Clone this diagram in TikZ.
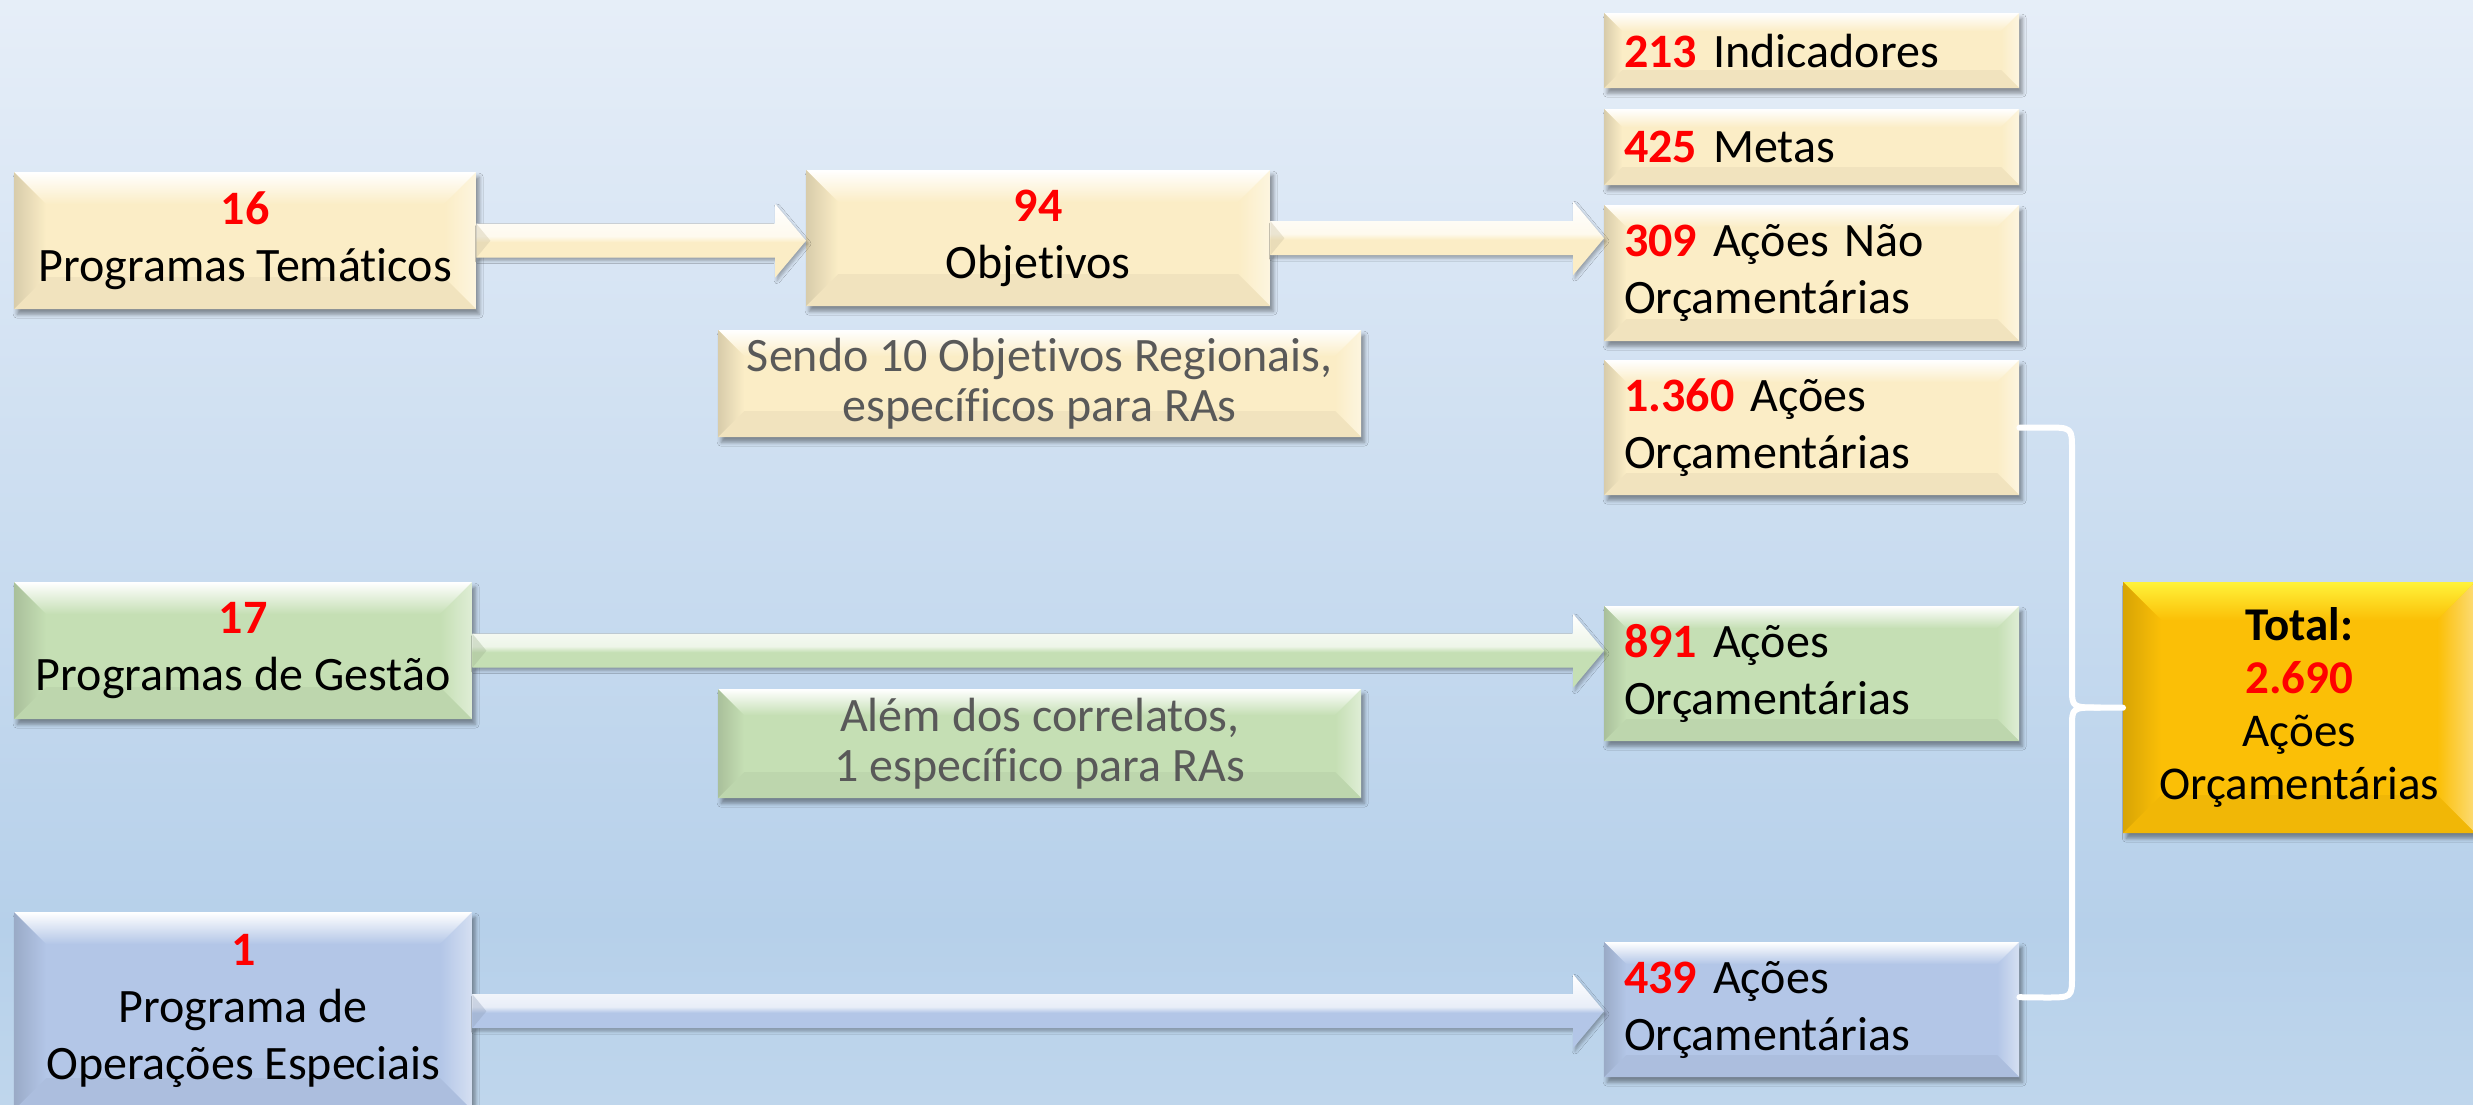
\documentclass[tikz,border=0pt]{standalone}
\usepackage{fontspec}
\setmainfont[Ligatures={NoCommon,NoContextual}]{Carlito}
\usetikzlibrary{calc,shadows.blur}
\definecolor{beige}{HTML}{FBEDC6}
\definecolor{lgreen}{HTML}{C5DFB4}
\definecolor{lblue}{HTML}{B3C6E7}
\definecolor{gold}{HTML}{FBBF06}
\definecolor{notegray}{HTML}{595959}
\definecolor{bgtop}{HTML}{E6EEF8}
\definecolor{bgmid}{HTML}{B6D0EA}
\definecolor{bgbot}{HTML}{BFD6EC}
\definecolor{goldtop}{HTML}{FFF23A}
\colorlet{arrc}{beige}
\colorlet{arrl}{white}
\pgfdeclareverticalshading{bgshade}{100bp}{color(0bp)=(bgbot); color(25bp)=(bgbot); color(33bp)=(bgmid); color(75bp)=(bgtop); color(100bp)=(bgtop)}
\pgfdeclareverticalshading[arrc,arrl]{arrsh}{100bp}{color(0bp)=(arrc); color(25bp)=(arrc); color(49bp)=(arrc); color(53bp)=(arrl); color(75bp)=(white); color(100bp)=(white)}
\newcommand\rednum[1]{\textcolor{red}{\textbf{#1}}}
\newcommand\barrow[3]{%
  \colorlet{arrc}{#3}\colorlet{arrl}{#3!30!white}%
  \shade[shading=arrsh, blur shadow={shadow xshift=2pt,shadow yshift=-3pt,shadow blur radius=3pt,shadow opacity=30}]
    let \p1=(#1.east),\p2=(#2.west) in
    (\x1,\y1+17pt) -- (\x2-31pt,\y1+17pt) -- (\x2-31pt,\y1+37pt) -- (\x2,\y1)
    -- (\x2-31pt,\y1-37pt) -- (\x2-31pt,\y1-17pt) -- (\x1,\y1-17pt) -- cycle;
  \fill[#3!80!black, opacity=.35] let \p1=(#1.east) in
    (\x1,\y1+17pt) -- (\x1+14pt,\y1) -- (\x1,\y1-17pt) -- cycle;
}
\tikzset{
  bevin/.store in=\bevin, bevin=24pt,
  bevtop/.store in=\bevtop, bevtop=white,
  box/.style={fill=#1, inner sep=0pt,
    blur shadow={shadow xshift=3pt,shadow yshift=-5pt,shadow blur radius=4pt,shadow opacity=40},
    path picture={
      \path (path picture bounding box.north west) coordinate (ppnw)
            (path picture bounding box.north east) coordinate (ppne)
            (path picture bounding box.south west) coordinate (ppsw)
            (path picture bounding box.south east) coordinate (ppse);
      \shade[top color=\bevtop, bottom color=#1] (ppnw) -- (ppne) -- ($(ppne)+(-\bevin,-\bevin)$) -- ($(ppnw)+(\bevin,-\bevin)$) -- cycle;
      \shade[left color=#1!86!black, right color=#1] (ppnw) -- ($(ppnw)+(\bevin,-\bevin)$) -- ($(ppsw)+(\bevin,\bevin)$) -- (ppsw) -- cycle;
      \shade[left color=#1, right color=#1!55!white] (ppne) -- (ppse) -- ($(ppse)+(-\bevin,\bevin)$) -- ($(ppne)+(-\bevin,-\bevin)$) -- cycle;
      \fill[#1!96!black] (ppsw) -- (ppse) -- ($(ppse)+(-\bevin,\bevin)$) -- ($(ppsw)+(\bevin,\bevin)$) -- cycle;
    }},
  lbox/.style={font=\fontsize{48}{57}\selectfont, align=center, anchor=north west, bevin=32pt},
  note/.style={font=\fontsize{48}{50}\selectfont, align=center, anchor=north west, text=notegray, bevin=26pt, minimum width=643pt},
  rbox/.style={font=\fontsize{48}{57}\selectfont, align=left, anchor=north west, text width=375pt, inner xsep=20pt, bevin=22pt},
  brace/.style={draw=white, line width=6pt, line join=round, line cap=round},
}
\begin{document}
\begin{tikzpicture}[x=1pt,y=-1pt]
\useasboundingbox (0,0) rectangle (2473,1104);
\clip (0,0) rectangle (2473,1104);
\shade[shading=bgshade] (0,0) rectangle (2473,1104);

% left column
\node[box=beige, lbox, minimum width=462pt, minimum height=137pt] (pt) at (14,172) {\rednum{16}\\Programas Temáticos};
\node[box=beige, lbox, minimum width=464pt, minimum height=136pt] (obj) at (806,170) {\rednum{94}\\Objetivos};
\node[box=beige, note, minimum height=107pt] (sendo) at (718,330) {Sendo 10 Objetivos Regionais,\\específicos para RAs};
\node[box=lgreen, lbox, minimum width=458pt, minimum height=137pt] (gest) at (14,582) {\rednum{17}\\Programas de Gestão};
\node[box=lgreen, note, minimum height=109pt] (alem) at (718,689) {Além dos correlatos,\\1 específico para RAs};
\node[box=lblue, lbox, minimum width=458pt, minimum height=198pt] (op) at (14,912) {\rednum{1}\\Programa de\\Operações Especiais};

% right column
\node[box=beige, rbox, bevin=18pt, minimum height=75pt] (ind) at (1604,13) {\rednum{213} Indicadores};
\node[box=beige, rbox, bevin=18pt, minimum height=76pt] (met) at (1604,109) {\rednum{425} Metas};
\node[box=beige, rbox, minimum height=136pt] (r309) at (1604,205) {\rednum{309} Ações Não\\Orçamentárias};
\node[box=beige, rbox, minimum height=135pt] (r1360) at (1604,360) {\rednum{1.360} Ações\\Orçamentárias};
\node[box=lgreen, rbox, minimum height=135pt] (r891) at (1604,606) {\rednum{891} Ações\\Orçamentárias};
\node[box=lblue, rbox, minimum height=135pt] (r439) at (1604,942) {\rednum{439} Ações\\Orçamentárias};

% total
\node[box=gold, bevtop=goldtop, bevin=38pt, font=\fontsize{47}{53}\selectfont, align=center, anchor=north west, minimum width=352pt, minimum height=251pt] (tot) at (2123,582) {\textbf{Total:}\\\rednum{2.690}\\Ações\\Orçamentárias};

% arrows
\barrow{pt}{obj}{beige}
\barrow{obj}{r309}{beige}
\barrow{gest}{r891}{lgreen}
\barrow{op}{r439}{lblue}

% brace
\draw[brace] (r1360.east) -- (2045,427.5) .. controls (2072,427.5) .. (2072,450) -- (2072,688) .. controls (2072,707.5) .. (2100,707.5) -- (tot.west);
\draw[brace] (2100,707.5) .. controls (2072,707.5) .. (2072,727) -- (2072,976) .. controls (2072,997.5) .. (2045,997.5) -- ($(r439.east)+(0,12.5pt)$);
\end{tikzpicture}
\end{document}
